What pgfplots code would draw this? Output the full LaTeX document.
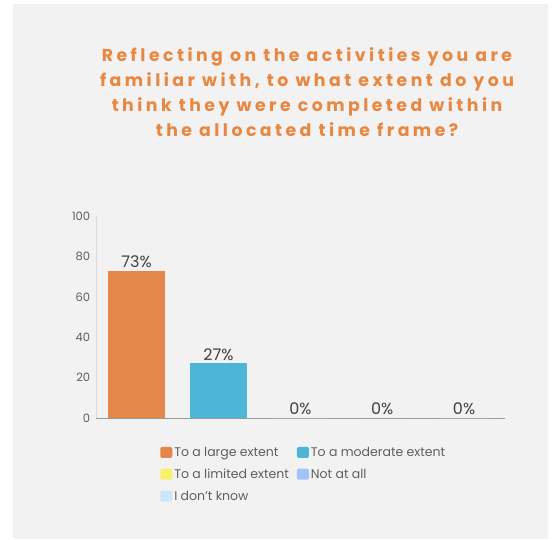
\documentclass[border=0pt]{standalone}
\usepackage{fontspec}
\setmainfont{Poppins}
\newfontfamily\titlefont[LetterSpace=20]{Poppins}
\usepackage{pgfplots}
\pgfplotsset{compat=1.18}
\definecolor{bg}{HTML}{F2F2F2}
\definecolor{titleor}{HTML}{E8873F}
\definecolor{c1}{HTML}{E3884A}
\definecolor{c2}{HTML}{4DB6D8}
\definecolor{c3}{HTML}{F7F06B}
\definecolor{c4}{HTML}{A4C2F4}
\definecolor{c5}{HTML}{CDE5F8}
\definecolor{lblgray}{HTML}{5E5E5E}
\definecolor{valgray}{HTML}{404040}
\begin{document}
\begin{tikzpicture}[x=1pt,y=1pt]
\useasboundingbox (0,0) rectangle (554,539);
\fill[white] (0,0) rectangle (554,539);
\fill[bg] (13,0) rectangle (548,535);
\begin{scope}[every node/.style={text=titleor, font=\titlefont\bfseries\fontsize{17.3}{25}\selectfont, anchor=base, inner sep=0pt}]
\node at (307,477) {Reflecting on the activities you are};
\node at (307,452) {familiar with, to what extent do you};
\node at (307,427) {think they were completed within};
\node at (307,402) {the allocated time frame?};
\end{scope}
\begin{axis}[
  at={(95.7pt,121pt)}, anchor=south west,
  scale only axis, width=409.3pt, height=202pt,
  ybar, bar width=57pt, bar shift=0pt,
  xmin=-0.5, xmax=4.5, ymin=0, ymax=100,
  ytick={0,20,40,60,80,100}, xtick=\empty,
  axis x line*=bottom, axis y line*=left,
  x axis line style={-, draw=black!40},
  y axis line style={-, draw=black!15},
  major tick length=0pt,
  tick label style={font=\fontsize{11.5}{13}\selectfont, text=lblgray},
  yticklabel style={xshift=-2pt},
  /pgf/number format/assume math mode=true,
  nodes near coords={\pgfmathprintnumber{\pgfplotspointmeta}\%},
  nodes near coords style={font=\fontsize{16}{18}\selectfont, text=valgray, inner sep=1pt, yshift=2pt},
  legend columns=2,
  legend cell align=left,
  legend style={at={(0.15,-0.125)}, anchor=north west, draw=none, fill=none,
    font=\fontsize{12.5}{14}\selectfont, text=lblgray,
    /tikz/every even column/.append style={column sep=6pt},
    row sep=7pt},
  legend image code/.code={\fill[#1, draw=none, rounded corners=1.5pt] (0pt,-5pt) rectangle (12pt,6pt);},
]
\addplot[fill=c1, draw=none] coordinates {(0,73)};
\addplot[fill=c2, draw=none] coordinates {(1,27)};
\addplot[fill=c3, draw=none] coordinates {(2,0)};
\addplot[fill=c4, draw=none] coordinates {(3,0)};
\addplot[fill=c5, draw=none] coordinates {(4,0)};
\legend{To a large extent, To a moderate extent, To a limited extent, Not at all, I don't know}
\end{axis}
\end{tikzpicture}
\end{document}
